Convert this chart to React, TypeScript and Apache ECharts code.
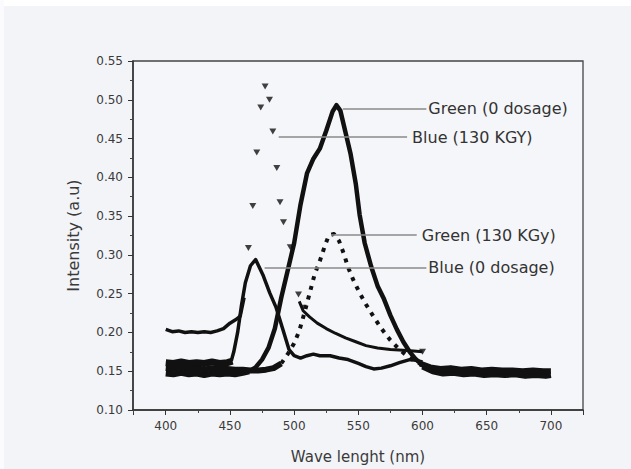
import React, { useEffect, useRef } from "react";
import * as echarts from "echarts";

// ---- Data ----
// Green (0 dosage): noisy baseline, main peak, noisy tail
const greenZeroBaseWl = [400, 406, 412, 418, 424, 430, 436, 442, 448, 454, 460, 465];
const greenZeroBaseVal = [0.147, 0.146, 0.148, 0.146, 0.147, 0.145, 0.147, 0.146, 0.147, 0.146, 0.148, 0.15];
const greenZeroWl = [
  465, 470, 475, 480, 485, 490, 495, 500, 505, 510, 515, 520, 525, 530, 533, 536, 540, 544, 548, 551, 555,
  560, 565, 570, 575, 580, 585, 590, 595, 600, 605,
];
const greenZeroVal = [
  0.15, 0.155, 0.165, 0.18, 0.205, 0.245, 0.28, 0.315, 0.365, 0.405, 0.424, 0.437, 0.46, 0.485, 0.493,
  0.486, 0.458, 0.43, 0.392, 0.352, 0.315, 0.285, 0.26, 0.243, 0.222, 0.204, 0.188, 0.175, 0.165, 0.158,
  0.152,
];
const greenZeroTailWl = [600, 608, 616, 624, 632, 640, 648, 656, 664, 672, 680, 688, 696, 700];
const greenZeroTailVal = [0.156, 0.15, 0.147, 0.148, 0.146, 0.147, 0.145, 0.146, 0.145, 0.146, 0.144, 0.145, 0.144, 0.145];

// Green (130 KGy): noisy baseline, dotted peak, noisy tail
const greenKGyBaseWl = [400, 406, 412, 418, 424, 430, 436, 442, 448, 454, 460, 466, 472, 478, 484, 490];
const greenKGyBaseVal = [
  0.154, 0.153, 0.155, 0.153, 0.154, 0.152, 0.154, 0.153, 0.153, 0.152, 0.152, 0.151, 0.151, 0.152, 0.154,
  0.16,
];
const greenKGyPeakWl = [
  490, 495, 500, 504, 508, 512, 516, 520, 524, 527, 531, 535, 539, 542, 546, 551, 556, 562, 568, 575, 582,
  590, 600,
];
const greenKGyPeakVal = [
  0.16, 0.172, 0.186, 0.202, 0.225, 0.25, 0.275, 0.292, 0.312, 0.325, 0.327, 0.318, 0.3, 0.284, 0.268,
  0.251, 0.236, 0.22, 0.205, 0.19, 0.178, 0.167, 0.158,
];
const greenKGyTailWl = [598, 606, 614, 622, 630, 638, 646, 654, 662, 670, 678, 686, 694, 700];
const greenKGyTailVal = [0.16, 0.155, 0.153, 0.154, 0.152, 0.153, 0.151, 0.152, 0.151, 0.151, 0.15, 0.151, 0.15, 0.15];

// Blue (0 dosage): noisy baseline, peak and flat tail
const blueZeroBaseWl = [400, 406, 412, 418, 424, 430, 436, 442, 448, 452];
const blueZeroBaseVal = [0.161, 0.16, 0.162, 0.16, 0.161, 0.16, 0.162, 0.16, 0.161, 0.163];
const blueZeroWl = [
  451, 453, 456, 459, 462, 466, 470, 476, 481, 486, 491, 496, 500, 505, 510, 515, 520, 528, 535, 542, 550,
  556, 562, 568, 575, 582, 590, 595, 600,
];
const blueZeroVal = [
  0.163, 0.175, 0.2, 0.235, 0.264, 0.286, 0.294, 0.273, 0.251, 0.232, 0.205, 0.178, 0.17, 0.167, 0.17,
  0.172, 0.17, 0.17, 0.167, 0.165, 0.16, 0.156, 0.153, 0.154, 0.157, 0.161, 0.165, 0.164, 0.162,
];

// Blue (130 KGY): baseline trace, triangle markers at the peak, decaying tail
const blueKGyBaseWl = [400, 405, 410, 415, 420, 425, 430, 435, 440, 445, 450, 455, 458, 461];
const blueKGyBaseVal = [0.204, 0.201, 0.202, 0.2, 0.201, 0.2, 0.201, 0.2, 0.202, 0.205, 0.212, 0.217, 0.221, 0.245];
const blueKGyPeakWl = [464.4, 467.8, 470.9, 474, 477.4, 480.8, 483.4, 486.5, 489, 491.7, 497, 503.4, 507, 600];
const blueKGyPeakVal = [0.309, 0.363, 0.432, 0.49, 0.517, 0.5, 0.459, 0.412, 0.368, 0.342, 0.31, 0.249, 0.232, 0.175];
const blueKGyTailWl = [504, 507, 512, 518, 525, 532, 540, 548, 556, 565, 575, 585, 593, 600];
const blueKGyTailVal = [0.24, 0.228, 0.22, 0.212, 0.205, 0.199, 0.193, 0.188, 0.183, 0.18, 0.178, 0.177, 0.176, 0.175];

// Leader-line annotations (data coordinates)
const annotationText = ["Green (0 dosage)", "Blue (130 KGY)", "Green (130 KGy)", "Blue (0 dosage)"];
const annotationFromX = [538, 488, 529, 477];
const annotationY = [0.489, 0.452, 0.3256, 0.2835];
const annotationToX = [603, 588, 595.5, 603];

const xMin = 374.5;
const xMax = 725;
const yMin = 0.1;
const yMax = 0.55;
const yStep = 0.05;

const FONT = "DejaVu Sans";
const INK = "#111";

const pairs = (wl: number[], val: number[]) => wl.map((w, i) => [w, val[i]]);

export default function App() {
  const ref = useRef<HTMLDivElement>(null);

  useEffect(() => {
    if (!ref.current) return;
    const chart = echarts.init(ref.current, undefined, { renderer: "svg" });
    const labelDist = [2, 5, 5, 2];

    const plainLine = (name: string, data: number[][], width: number, dash?: number[]) => ({
      name,
      type: "line",
      data,
      showSymbol: false,
      lineStyle: { color: INK, width, type: dash || "solid", cap: "butt", join: "round" },
      z: 3,
    });

    const option: any = {
      animation: false,
      backgroundColor: "#f3f4f8",
      graphic: [
        { type: "rect", left: 0, top: 0, shape: { width: 631, height: 6 }, style: { fill: "#ffffff" }, silent: true },
        { type: "rect", left: 0, top: 0, shape: { width: 4, height: 469 }, style: { fill: "#fbfbfd" }, silent: true },
      ],
      grid: {
        left: 133,
        right: 48,
        top: 61,
        bottom: 58,
        show: true,
        borderColor: "#444",
        borderWidth: 1.3,
        backgroundColor: "#f5f6f9",
      },
      xAxis: {
        type: "value",
        min: xMin,
        max: xMax,
        splitNumber: 7,
        name: "Wave lenght (nm)",
        nameLocation: "middle",
        nameGap: 39,
        nameTextStyle: { fontFamily: FONT, fontSize: 15, color: "#3a3a3a" },
        axisLine: { show: true, lineStyle: { color: "#333", width: 1.5 } },
        axisTick: { show: true, length: 5, lineStyle: { color: "#333", width: 1 } },
        minorTick: { show: true, splitNumber: 2, length: 3, lineStyle: { color: "#444", width: 1 } },
        splitLine: { show: false },
        axisLabel: {
          fontFamily: FONT,
          fontSize: 12,
          color: "#3a3a3a",
          margin: 10,
          formatter: (v: number) => (Math.abs(v % 50) < 1e-6 ? String(v) : ""),
        },
      },
      yAxis: {
        type: "value",
        min: yMin,
        max: yMax,
        interval: yStep,
        name: "Intensity (a.u)",
        nameLocation: "middle",
        nameGap: 52,
        nameTextStyle: { fontFamily: FONT, fontSize: 16, color: "#3a3a3a" },
        axisLine: { show: true, lineStyle: { color: "#333", width: 1.5 } },
        axisTick: { show: true, length: 5, lineStyle: { color: "#333", width: 1 } },
        minorTick: { show: true, splitNumber: 2, length: 3, lineStyle: { color: "#444", width: 1 } },
        splitLine: { show: false },
        axisLabel: {
          fontFamily: FONT,
          fontSize: 12,
          color: "#3a3a3a",
          margin: 10,
          formatter: (v: number) => v.toFixed(2),
        },
      },
      series: [
        plainLine("Green (0 dosage) base", pairs(greenZeroBaseWl, greenZeroBaseVal), 6),
        {
          ...plainLine("Green (0 dosage)", pairs(greenZeroWl, greenZeroVal), 4.5),
          markLine: {
            silent: true,
            symbol: ["none", "none"],
            lineStyle: { color: "#8a8a8a", width: 1.6, type: "solid" },
            data: annotationText.map((t, i) => [
              {
                coord: [annotationFromX[i], annotationY[i]],
                label: {
                  show: true,
                  position: "end",
                  formatter: t,
                  distance: labelDist[i],
                  fontFamily: FONT,
                  fontSize: 16,
                  color: "#333",
                },
              },
              { coord: [annotationToX[i], annotationY[i]] },
            ]),
          },
        },
        plainLine("Green (0 dosage) tail", pairs(greenZeroTailWl, greenZeroTailVal), 6),
        plainLine("Green (130 KGy) base", pairs(greenKGyBaseWl, greenKGyBaseVal), 6),
        plainLine("Green (130 KGy)", pairs(greenKGyPeakWl, greenKGyPeakVal), 4, [4, 6]),
        plainLine("Green (130 KGy) tail", pairs(greenKGyTailWl, greenKGyTailVal), 6),
        plainLine("Blue (0 dosage) base", pairs(blueZeroBaseWl, blueZeroBaseVal), 7),
        plainLine("Blue (0 dosage)", pairs(blueZeroWl, blueZeroVal), 3.5),
        plainLine("Blue (130 KGY) base", pairs(blueKGyBaseWl, blueKGyBaseVal), 3.5),
        {
          name: "Blue (130 KGY)",
          type: "scatter",
          data: pairs(blueKGyPeakWl, blueKGyPeakVal),
          symbol: "triangle",
          symbolRotate: 180,
          symbolSize: [7, 6],
          itemStyle: { color: INK },
          z: 4,
        },
        plainLine("Blue (130 KGY) tail", pairs(blueKGyTailWl, blueKGyTailVal), 3),
      ],
    };

    chart.setOption(option);
    return () => chart.dispose();
  }, []);

  return (
    <div
      ref={ref}
      style={{ position: "fixed", left: 0, top: 0, width: 631, height: 469 }}
    />
  );
}
